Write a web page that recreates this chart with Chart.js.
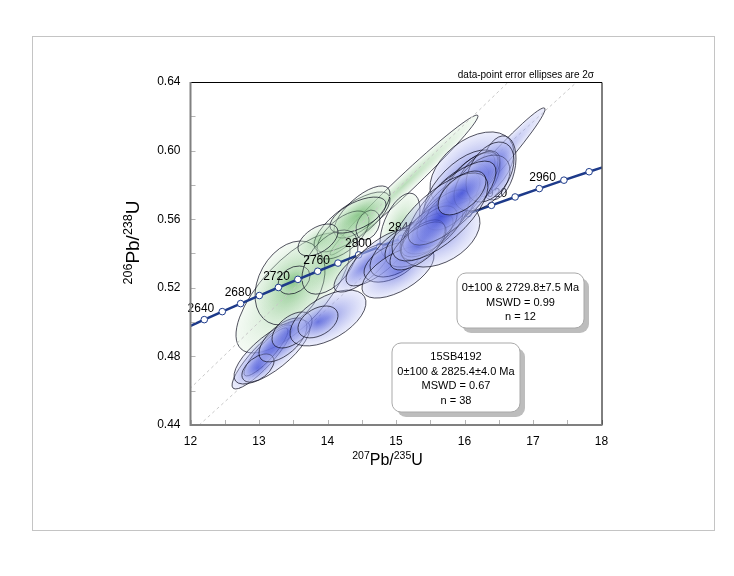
<!DOCTYPE html>
<html>
<head>
<meta charset="utf-8">
<title>15SB4192 concordia</title>
<script src="https://cdn.jsdelivr.net/npm/chart.js@4.4.1/dist/chart.umd.min.js"></script>
<style>
  body { margin: 0; background: #fff; }
  #wrap { width: 734px; height: 576px; }
</style>
</head>
<body>
<div id="wrap"><canvas id="concordia-chart" width="734" height="576"></canvas></div>
<script>
const FONT = '"Liberation Sans", Arial, sans-serif';

// Concordia curve: marker ages (Ma) with their 207Pb/235U and 206Pb/238U ratios
const concAges = [2600, 2620, 2640, 2660, 2680, 2700, 2720, 2740, 2760, 2780, 2800,
                  2820, 2840, 2860, 2880, 2900, 2920, 2940, 2960, 2980, 3000];
const concX = [11.9437, 12.2012, 12.4638, 12.7316, 13.0048, 13.2834, 13.5675, 13.8573, 14.1528, 14.4542, 14.7617,
               15.0752, 15.3950, 15.7211, 16.0537, 16.3930, 16.7390, 17.0918, 17.4517, 17.8188, 18.1931];
const concY = [0.49679, 0.50144, 0.50611, 0.51079, 0.51548, 0.52019, 0.52492, 0.52965, 0.53441, 0.53918, 0.54396,
               0.54876, 0.55357, 0.55839, 0.56324, 0.56809, 0.57297, 0.57785, 0.58276, 0.58767, 0.59261];
const labelAges = [2640, 2680, 2720, 2760, 2800, 2840, 2880, 2920, 2960];

// Discordia lines anchored at 0 Ma, upper intercepts
const discAges = [2729.8, 2825.4];
const discUpperX = [13.7088, 15.1610];
const discUpperY = [0.52724, 0.55006];

// Green population (n = 12): centre, 2s half-extents, error correlation
const greenX = [15.117, 13.496, 13.453, 13.511, 14.358, 14.504, 14.226, 14.591, 14.036, 14.445, 15.058, 13.861];
const greenY = [0.5799, 0.5170, 0.5228, 0.5245, 0.5584, 0.5642, 0.5508, 0.5566, 0.5350, 0.5624, 0.5560, 0.5479];
const greenErrX = [1.080, 0.832, 0.511, 0.234, 0.555, 0.409, 0.380, 0.175, 0.409, 0.409, 0.292, 0.292];
const greenErrY = [0.0408, 0.0350, 0.0245, 0.0082, 0.0175, 0.0152, 0.0140, 0.0087, 0.0187, 0.0105, 0.0192, 0.0093];
const greenRho = [0.985, 0.7, 0.3, 0.3, 0.75, 0.7, 0.6, 0.3, 0.5, 0.6, 0.5, 0.5];

// Blue population (n = 38)
const blueX = [13.044, 13.102, 13.190, 12.985, 13.350, 13.482, 14.007, 13.861, 14.504, 14.737,
               14.942, 15.088, 15.277, 15.029, 16.299, 15.642, 16.109, 16.489, 15.964, 15.861,
               15.788, 15.715, 15.642, 15.540, 15.453, 16.036, 16.109, 16.197, 15.905, 15.759,
               15.599, 15.394, 15.321, 16.255, 16.372, 15.818, 15.642, 15.964];
const blueY = [0.4797, 0.4826, 0.4826, 0.4732, 0.4896, 0.4954, 0.5024, 0.5001, 0.5315, 0.5374,
               0.5350, 0.5420, 0.5461, 0.5292, 0.5858, 0.5508, 0.5887, 0.5899, 0.5782, 0.5724,
               0.5677, 0.5630, 0.5584, 0.5549, 0.5508, 0.5811, 0.5840, 0.5858, 0.5741, 0.5654,
               0.5572, 0.5479, 0.5444, 0.5811, 0.5875, 0.5694, 0.5613, 0.5753];
const blueErrX = [0.438, 0.321, 0.555, 0.234, 0.350, 0.292, 0.555, 0.292, 0.409, 0.467,
                  0.409, 0.467, 0.438, 0.526, 0.876, 0.584, 0.613, 0.263, 0.555, 0.496,
                  0.438, 0.467, 0.409, 0.438, 0.380, 0.409, 0.380, 0.321, 0.321, 0.321,
                  0.292, 0.321, 0.409, 0.409, 0.350, 0.642, 0.701, 0.350];
const blueErrY = [0.0187, 0.0140, 0.0187, 0.0082, 0.0128, 0.0105, 0.0163, 0.0093, 0.0140, 0.0163,
                  0.0117, 0.0157, 0.0140, 0.0152, 0.0391, 0.0187, 0.0222, 0.0187, 0.0222, 0.0198,
                  0.0175, 0.0175, 0.0152, 0.0152, 0.0128, 0.0175, 0.0152, 0.0140, 0.0128, 0.0117,
                  0.0105, 0.0117, 0.0140, 0.0163, 0.0175, 0.0245, 0.0257, 0.0128];
const blueRho = [0.88, 0.88, 0.75, 0.5, 0.6, 0.5, 0.55, 0.4, 0.75, 0.75,
                 0.5, 0.6, 0.5, 0.6, 0.98, 0.4, 0.45, 0.3, 0.6, 0.65,
                 0.65, 0.7, 0.65, 0.6, 0.6, 0.7, 0.65, 0.6, 0.6, 0.55,
                 0.5, 0.55, 0.65, 0.45, 0.4, 0.75, 0.7, 0.55];

// Result boxes
const greenBoxLines = ['0\u00b1100 & 2729.8\u00b17.5 Ma', 'MSWD = 0.99', 'n = 12'];
const blueBoxLines = ['15SB4192', '0\u00b1100 & 2825.4\u00b14.0 Ma', 'MSWD = 0.67', 'n = 38'];

const CONC_COLOR = '#1d3a8a';

// Draw one error ellipse (bounding half-extents + correlation) with a radial fill
function drawEllipse(ctx, xs, ys, x, y, ex, ey, rho, inner, outer) {
    const cx = xs.getPixelForValue(x);
    const cy = ys.getPixelForValue(y);
    const hx = Math.abs(xs.getPixelForValue(x + ex) - cx);
    const hy = Math.abs(ys.getPixelForValue(y + ey) - cy);
    const cxx = hx * hx, cyy = hy * hy, cxy = -rho * hx * hy; // pixel y points down
    const mid = (cxx + cyy) / 2;
    const diff = Math.sqrt(((cxx - cyy) / 2) ** 2 + cxy * cxy);
    const a = Math.sqrt(mid + diff);
    const b = Math.sqrt(Math.max(mid - diff, 0.6));
    const ang = 0.5 * Math.atan2(2 * cxy, cxx - cyy);

    ctx.save();
    ctx.translate(cx, cy);
    ctx.rotate(ang);
    ctx.scale(a, b);
    const grad = ctx.createRadialGradient(0, 0, 0, 0, 0, 1);
    grad.addColorStop(0, inner);
    grad.addColorStop(1, outer);
    ctx.fillStyle = grad;
    ctx.beginPath();
    ctx.arc(0, 0, 1, 0, Math.PI * 2);
    ctx.fill();
    ctx.restore();

    ctx.beginPath();
    ctx.ellipse(cx, cy, a, b, ang, 0, Math.PI * 2);
    ctx.lineWidth = 0.8;
    ctx.strokeStyle = 'rgba(0,0,20,0.85)';
    ctx.stroke();
}

function clipToArea(chart) {
    const a = chart.chartArea;
    chart.ctx.beginPath();
    chart.ctx.rect(a.left, a.top, a.right - a.left, a.bottom - a.top);
    chart.ctx.clip();
}

// Rounded box with grey drop shadow and centred lines of text
function drawResultBox(ctx, x, y, w, h, lines, firstBaseline, lineGap) {
    ctx.fillStyle = '#bdbdbd';
    ctx.beginPath();
    ctx.roundRect(x + 5, y + 5, w, h, 9);
    ctx.fill();
    ctx.fillStyle = '#fff';
    ctx.strokeStyle = '#a9a9a9';
    ctx.lineWidth = 1;
    ctx.beginPath();
    ctx.roundRect(x, y, w, h, 9);
    ctx.fill();
    ctx.stroke();
    ctx.fillStyle = '#000';
    ctx.font = '11px ' + FONT;
    ctx.textAlign = 'center';
    ctx.textBaseline = 'alphabetic';
    lines.forEach((t, i) => ctx.fillText(t, x + w / 2, firstBaseline + i * lineGap));
}

// Axis title with superscript mass numbers, e.g. 207Pb/235U
function titleParts(supA, elem, supB, tail) {
    return [[supA, true], [elem, false], ['/', false], [supB, true], [tail, false]];
}

function drawTitle(ctx, parts, bigSize, smallSize, rise, cx, baseline) {
    let total = 0;
    parts.forEach(([t, sup]) => {
        ctx.font = (sup ? smallSize : bigSize) + 'px ' + FONT;
        total += ctx.measureText(t).width;
    });
    let x = cx - total / 2;
    ctx.textAlign = 'left';
    ctx.textBaseline = 'alphabetic';
    ctx.fillStyle = '#000';
    parts.forEach(([t, sup]) => {
        ctx.font = (sup ? smallSize : bigSize) + 'px ' + FONT;
        ctx.fillText(t, x, sup ? baseline - rise : baseline);
        x += ctx.measureText(t).width;
    });
}

const overlayPlugin = {
    id: 'overlay',
    beforeDatasetsDraw(chart) {
        // green population sits under the concordia line
        const ctx = chart.ctx;
        const xs = chart.scales.x, ys = chart.scales.y;
        ctx.save();
        clipToArea(chart);
        greenX.forEach((x, i) => drawEllipse(ctx, xs, ys, x, greenY[i], greenErrX[i], greenErrY[i], greenRho[i],
            'rgba(100,180,100,0.45)', 'rgba(220,240,220,0.30)'));
        ctx.restore();
    },
    afterDatasetsDraw(chart) {
        const ctx = chart.ctx;
        const xs = chart.scales.x, ys = chart.scales.y;

        // concordia age labels
        ctx.save();
        ctx.font = '12px ' + FONT;
        ctx.fillStyle = '#000';
        ctx.textAlign = 'right';
        ctx.textBaseline = 'alphabetic';
        labelAges.forEach(age => {
            const i = concAges.indexOf(age);
            ctx.fillText(String(age), xs.getPixelForValue(concX[i]) - 8, ys.getPixelForValue(concY[i]) + 0.5);
        });
        ctx.restore();

        // blue population on top
        ctx.save();
        clipToArea(chart);
        blueX.forEach((x, i) => drawEllipse(ctx, xs, ys, x, blueY[i], blueErrX[i], blueErrY[i], blueRho[i],
            'rgba(45,60,210,0.52)', 'rgba(200,205,246,0.34)'));
        ctx.restore();
    },
    afterDraw(chart) {
        const ctx = chart.ctx;
        const xs = chart.scales.x, ys = chart.scales.y;
        const { left, right, top, bottom } = chart.chartArea;
        ctx.save();

        // outer frame
        ctx.strokeStyle = '#c4c4c4';
        ctx.lineWidth = 1;
        ctx.strokeRect(32.5, 36.5, 682, 494);

        // inward tick marks
        ctx.strokeStyle = '#b4b4b4';
        ctx.beginPath();
        xs.ticks.forEach(t => {
            const p = Math.round(xs.getPixelForValue(t.value)) + 0.5;
            ctx.moveTo(p, bottom);
            ctx.lineTo(p, bottom - 5);
        });
        ys.ticks.forEach(t => {
            const p = Math.round(ys.getPixelForValue(t.value)) + 0.5;
            ctx.moveTo(left, p);
            ctx.lineTo(left + 5, p);
        });
        ctx.stroke();

        // plot border: thin black top/right, grey heavier left/bottom
        ctx.strokeStyle = '#000';
        ctx.lineWidth = 1;
        ctx.beginPath();
        ctx.moveTo(left, top + 0.5);
        ctx.lineTo(right + 0.5, top + 0.5);
        ctx.lineTo(right + 0.5, bottom);
        ctx.stroke();
        ctx.strokeStyle = '#808080';
        ctx.lineWidth = 2;
        ctx.beginPath();
        ctx.moveTo(left, top);
        ctx.lineTo(left, bottom);
        ctx.lineTo(right + 1, bottom);
        ctx.stroke();

        // note at top right
        ctx.fillStyle = '#000';
        ctx.font = '10px ' + FONT;
        ctx.textAlign = 'right';
        ctx.textBaseline = 'alphabetic';
        ctx.fillText('data-point error ellipses are 2\u03c3', 594, 78);

        // axis titles
        drawTitle(ctx, titleParts('207', 'Pb', '235', 'U'), 16, 10.5, 6.5, 387.5, 465);
        ctx.save();
        ctx.translate(139, 242.5);
        ctx.rotate(-Math.PI / 2);
        drawTitle(ctx, titleParts('206', 'Pb', '238', 'U'), 19, 12.5, 7.5, 0, 0);
        ctx.restore();

        // result boxes
        drawResultBox(ctx, 457, 273, 127, 55, greenBoxLines, 291, 14.5);
        drawResultBox(ctx, 392, 343, 128, 69, blueBoxLines, 360, 14.5);

        ctx.restore();
    }
};

const discSlopes = discUpperY.map((y, i) => y / discUpperX[i]);

const ctx = document.getElementById('concordia-chart').getContext('2d');
const chart = new Chart(ctx, {
    type: 'scatter',
    data: {
        datasets: [
            {
                label: 'Concordia',
                data: concX.map((x, i) => ({ x: x, y: concY[i] })),
                showLine: true,
                borderColor: CONC_COLOR,
                borderWidth: 2.5,
                pointRadius: concAges.map(a => (a < 2620 || a > 2980) ? 0 : 3.3),
                pointBackgroundColor: '#fff',
                pointBorderColor: CONC_COLOR,
                pointBorderWidth: 1,
                order: 1
            },
            ...discAges.map((age, i) => ({
                label: 'Discordia ' + age + ' Ma',
                data: [{ x: 0, y: 0 }, { x: 20, y: 20 * discSlopes[i] }],
                showLine: true,
                borderColor: '#c8c8c8',
                borderWidth: 1,
                borderDash: [3, 3],
                pointRadius: 0,
                order: 2
            }))
        ]
    },
    options: {
        responsive: false,
        animation: false,
        layout: {
            padding: { left: 100, right: 132.5, top: 82, bottom: 106 }
        },
        plugins: {
            legend: { display: false },
            tooltip: { enabled: false }
        },
        scales: {
            x: {
                type: 'linear',
                min: 12,
                max: 18,
                grid: { display: false, drawTicks: false },
                border: { display: false },
                ticks: {
                    stepSize: 0.5,
                    autoSkip: false,
                    maxRotation: 0,
                    padding: 9,
                    color: '#000',
                    font: { family: FONT, size: 12 },
                    callback: v => Number.isInteger(v) ? String(v) : ''
                },
                afterFit: scale => { scale.height = 45; }
            },
            y: {
                type: 'linear',
                min: 0.44,
                max: 0.64,
                grid: { display: false, drawTicks: false },
                border: { display: false },
                ticks: {
                    stepSize: 0.02,
                    autoSkip: false,
                    padding: 10,
                    color: '#000',
                    font: { family: FONT, size: 12 },
                    callback: v => Math.round(v * 100) % 4 === 0 ? v.toFixed(2) : ''
                },
                afterFit: scale => { scale.width = 90.5; }
            }
        }
    },
    plugins: [overlayPlugin]
});
</script>
</body>
</html>
